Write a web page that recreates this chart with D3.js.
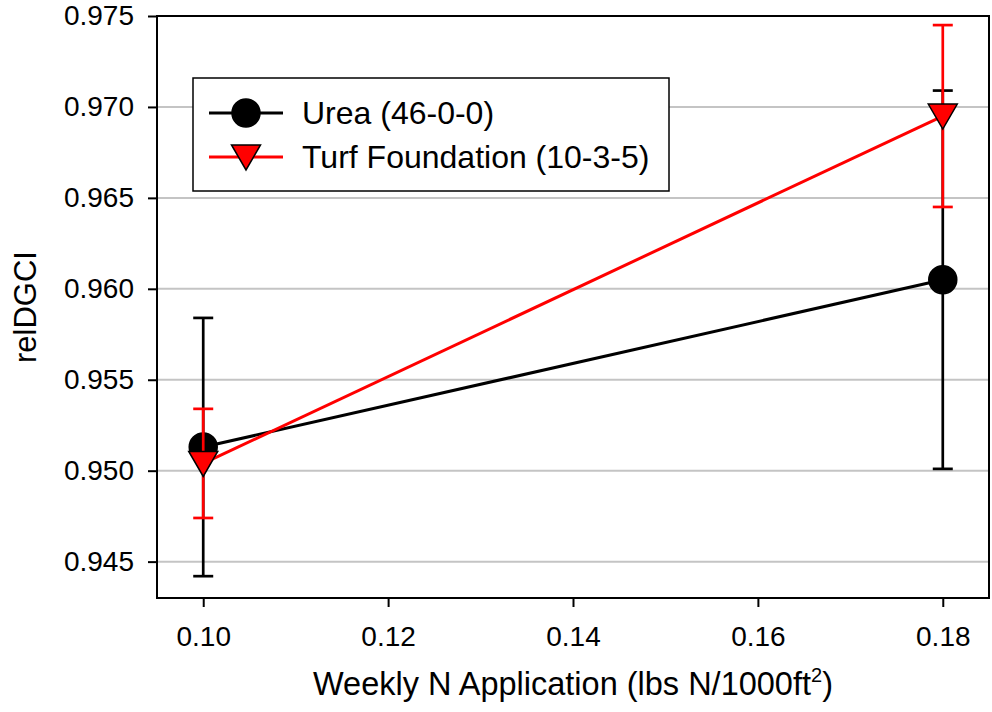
<!DOCTYPE html>
<html>
<head>
<meta charset="utf-8">
<script src="https://cdn.jsdelivr.net/npm/d3@7"></script>
<style>
  body { margin: 0; background: #fff; }
  text { font-family: "Liberation Sans", Arial, sans-serif; fill: #000; }
</style>
</head>
<body>
<div id="chart"></div>
<script>
// data
const xValues = [0.10, 0.18];
const ureaMean = [0.9513, 0.9605];
const ureaErr = [0.0071, 0.0104];
const turfMean = [0.9504, 0.9695];
const turfErr = [0.0030, 0.0050];
const xTicks = [0.10, 0.12, 0.14, 0.16, 0.18];
const yTicks = [0.945, 0.950, 0.955, 0.960, 0.965, 0.970, 0.975];
const seriesNames = ["Urea (46-0-0)", "Turf Foundation (10-3-5)"];

const width = 992, height = 712;
const margin = { left: 157, right: 3, top: 16, bottom: 114 };
const svg = d3.select("#chart").append("svg").attr("width", width).attr("height", height);

const x = d3.scaleLinear().domain([0.095, 0.185]).range([margin.left, width - margin.right]);
const y = d3.scaleLinear().domain([0.943, 0.975]).range([height - margin.bottom, margin.top]);

// grid lines
svg.append("g").selectAll("line")
    .data(yTicks.filter(d => d < 0.975))
    .enter().append("line")
    .attr("x1", x.range()[0]).attr("x2", x.range()[1])
    .attr("y1", d => y(d)).attr("y2", d => y(d))
    .attr("stroke", "#c4c4c4").attr("stroke-width", 2);

// axes
const xAxis = svg.append("g")
    .attr("transform", `translate(0,${y.range()[0]})`)
    .call(d3.axisBottom(x).tickValues(xTicks).tickFormat(d3.format(".2f")).tickSize(9).tickPadding(19));
const yAxis = svg.append("g")
    .attr("transform", `translate(${x.range()[0]},0)`)
    .call(d3.axisLeft(y).tickValues(yTicks).tickFormat(d3.format(".3f")).tickSize(9).tickPadding(14));
[xAxis, yAxis].forEach(g => {
    g.select(".domain").remove();
    g.selectAll("line").attr("stroke", "#000").attr("stroke-width", 2);
    g.selectAll("text").style("font-size", "28px").attr("fill", "#000")
        .style("font-family", '"Liberation Sans", Arial, sans-serif');
});

// frame
svg.append("rect")
    .attr("x", x.range()[0]).attr("y", y.range()[1])
    .attr("width", x.range()[1] - x.range()[0]).attr("height", y.range()[0] - y.range()[1])
    .attr("fill", "none").attr("stroke", "#000").attr("stroke-width", 2);

// axis titles
const xTitle = svg.append("text")
    .attr("x", (x.range()[0] + x.range()[1]) / 2).attr("y", 695)
    .attr("text-anchor", "middle").style("font-size", "32.5px");
xTitle.append("tspan").text("Weekly N Application (lbs N/1000ft");
xTitle.append("tspan").text("2").attr("dy", -13).style("font-size", "20px");
xTitle.append("tspan").text(")").attr("dy", 13);

svg.append("text")
    .attr("transform", `translate(36,${(y.range()[0] + y.range()[1]) / 2}) rotate(-90)`)
    .attr("text-anchor", "middle").style("font-size", "31px")
    .text("relDGCI");

function drawSeries(means, errs, color, lineW, marker) {
    const pts = xValues.map((v, i) => ({ x: v, m: means[i], e: errs[i] }));
    svg.append("path")
        .datum(pts)
        .attr("d", d3.line().x(d => x(d.x)).y(d => y(d.m)))
        .attr("fill", "none").attr("stroke", color).attr("stroke-width", lineW);
    const eb = svg.append("g").selectAll("g").data(pts).enter().append("g");
    eb.append("line")
        .attr("x1", d => x(d.x)).attr("x2", d => x(d.x))
        .attr("y1", d => y(d.m - d.e)).attr("y2", d => y(d.m + d.e))
        .attr("stroke", color).attr("stroke-width", 2.7);
    [-1, 1].forEach(s => {
        eb.append("line")
            .attr("x1", d => x(d.x) - 10).attr("x2", d => x(d.x) + 10)
            .attr("y1", d => y(d.m + s * d.e)).attr("y2", d => y(d.m + s * d.e))
            .attr("stroke", color).attr("stroke-width", 2.7);
    });
    svg.append("g").selectAll("path").data(pts).enter().append("path")
        .attr("transform", d => `translate(${x(d.x)},${y(d.m)})`)
        .attr("d", marker)
        .attr("fill", color).attr("stroke", "#000").attr("stroke-width", 1.5);
}

const circleMarker = d3.symbol().type(d3.symbolCircle).size(Math.PI * 14 * 14)();
const triMarker = "M-14.5,-12L14.5,-12L0,13Z";

drawSeries(ureaMean, ureaErr, "#000", 3, circleMarker);
drawSeries(turfMean, turfErr, "#ff0000", 3, triMarker);

// legend
const legend = svg.append("g");
legend.append("rect")
    .attr("x", 193).attr("y", 78).attr("width", 476).attr("height", 113)
    .attr("fill", "#fff").attr("stroke", "#000").attr("stroke-width", 1.5);
const legendItems = [
    { name: seriesNames[0], color: "#000", marker: circleMarker, cy: 113 },
    { name: seriesNames[1], color: "#ff0000", marker: triMarker, cy: 157 }
];
legendItems.forEach(it => {
    legend.append("line")
        .attr("x1", 209).attr("x2", 283).attr("y1", it.cy).attr("y2", it.cy)
        .attr("stroke", it.color).attr("stroke-width", 3);
    legend.append("path")
        .attr("transform", `translate(246,${it.cy})`)
        .attr("d", it.marker)
        .attr("fill", it.color).attr("stroke", "#000").attr("stroke-width", 1.5);
    legend.append("text")
        .attr("x", 302).attr("y", it.cy + 11)
        .style("font-size", "32px").text(it.name);
});
</script>
</body>
</html>
